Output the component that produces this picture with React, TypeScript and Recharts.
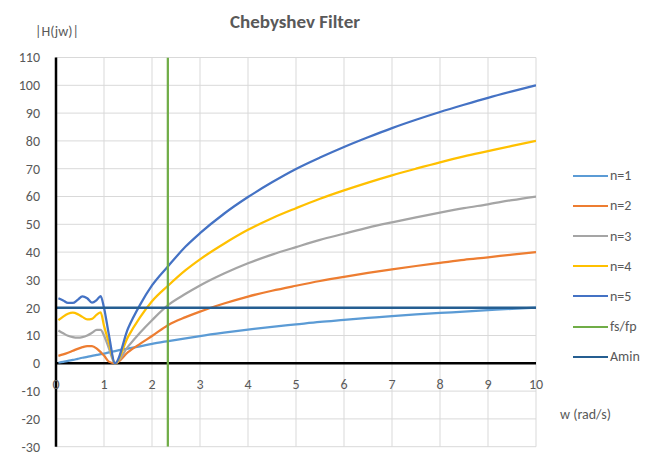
import React from 'react';
import { LineChart, Line, XAxis, YAxis, CartesianGrid, ReferenceLine, Legend } from 'recharts';

// angular frequency samples (rad/s)
const W = [0.05, 0.15, 0.25, 0.35, 0.45, 0.55, 0.65, 0.75, 0.85, 0.93, 1.0, 1.1, 1.23,
  1.5, 1.75, 2, 2.34, 2.7, 3, 3.5, 4, 4.5, 5, 5.5, 6, 6.5, 7, 7.5, 8, 8.5, 9, 9.5, 10];

// |H(jw)| values
const N1 = [0.2, 0.5, 0.9, 1.2, 1.6, 2.0, 2.3, 2.7, 3.0, 3.3, 3.5, 3.9, 4.4,
  5.3, 6.1, 7.0, 8.0, 9.0, 9.8, 11.0, 12.1, 13.1, 14.0, 14.9, 15.6, 16.3, 17.0, 17.6, 18.1, 18.6, 19.1, 19.6, 20.0];
const N2 = [2.7, 3.2, 3.8, 4.5, 5.2, 5.8, 6.2, 6.2, 5.3, 4.0, 2.8, 0.6, 0,
  4.0, 7.0, 9.8, 13.8, 16.6, 18.6, 21.5, 24.0, 26.1, 27.9, 29.6, 31.1, 32.5, 33.8, 35.0, 36.1, 37.2, 38.1, 39.1, 40.0];
const N3 = [11.8, 10.8, 9.9, 9.4, 9.2, 9.4, 10.0, 11.0, 12.0, 12.0, 10.0, 5.5, 0,
  6.0, 11.0, 15.5, 21.0, 25.0, 28.0, 32.3, 36.0, 39.1, 41.8, 44.4, 46.6, 48.8, 50.7, 52.5, 54.2, 55.8, 57.2, 58.7, 60.0];
const N4 = [15.5, 16.8, 17.8, 18.2, 17.7, 16.7, 15.8, 16.0, 17.5, 18.3, 13.5, 7.5, 0,
  9.5, 16.5, 22.3, 28.0, 33.5, 37.4, 43.0, 48.0, 52.2, 55.8, 59.2, 62.2, 65.0, 67.6, 70.0, 72.3, 74.4, 76.3, 78.2, 80.0];
const N5 = [23.4, 22.6, 21.7, 21.7, 22.8, 24.1, 23.4, 21.8, 22.8, 24.2, 20.0, 10.5, 0,
  12.5, 21.0, 28.0, 35.0, 42.0, 46.8, 53.8, 59.8, 65.1, 69.9, 74.0, 77.8, 81.3, 84.6, 87.6, 90.4, 93.0, 95.5, 97.8, 100.0];

const FS_W = [2.33, 2.33];
const FS_V = [-30, 110];
const AMIN_W = [0, 10];
const AMIN_V = [20, 20];

const X_TICKS = [0, 1, 2, 3, 4, 5, 6, 7, 8, 9, 10];
const Y_TICKS = [-30, -20, -10, 0, 10, 20, 30, 40, 50, 60, 70, 80, 90, 100, 110];

const toPoints = (ws: number[], vs: number[]) => ws.map((w, i) => ({ w, v: vs[i] }));

const SERIES = [
  { name: 'n=1', data: toPoints(W, N1), color: '#5B9BD5', width: 2.25 },
  { name: 'n=2', data: toPoints(W, N2), color: '#ED7D31', width: 2.25 },
  { name: 'n=3', data: toPoints(W, N3), color: '#A5A5A5', width: 2.25 },
  { name: 'n=4', data: toPoints(W, N4), color: '#FFC000', width: 2.25 },
  { name: 'n=5', data: toPoints(W, N5), color: '#4472C4', width: 2.25 },
  { name: 'fs/fp', data: toPoints(FS_W, FS_V), color: '#70AD47', width: 2.25 },
  { name: 'Amin', data: toPoints(AMIN_W, AMIN_V), color: '#255E91', width: 2.5 },
];
const ORDER = SERIES.map((s) => s.name);

const FONT = 'Carlito, Lato, "Open Sans", sans-serif';
const TEXT = '#595959';
const CHART_W = 649;
const CHART_H = 444;
const MARGIN = { top: 49.5, right: 121, bottom: 4.3, left: 8 };
const Y_MIN = -30;
const Y_MAX = 110;
const PLOT_H = CHART_H - MARGIN.top - MARGIN.bottom;
const ZERO_FROM_BOTTOM = (PLOT_H * (0 - Y_MIN)) / (Y_MAX - Y_MIN);

const XTick = (props: any) => {
  const { x, y, payload } = props;
  return (
    <text x={x} y={y - ZERO_FROM_BOTTOM + 26} textAnchor="middle" fill={TEXT} fontSize={14} fontFamily={FONT}>
      {payload.value}
    </text>
  );
};

const renderLegend = (props: any) => {
  const payload = [...(props.payload || [])].sort(
    (a: any, b: any) => ORDER.indexOf(a.value) - ORDER.indexOf(b.value)
  );
  return (
    <div style={{ fontFamily: FONT, fontSize: 14, color: TEXT }}>
      {payload.map((p: any) => (
        <div key={p.value} style={{ height: 30.2, display: 'flex', alignItems: 'center' }}>
          <span style={{ display: 'inline-block', width: 35, height: 0, borderTop: `2.5px solid ${p.color}`, marginRight: 2 }} />
          <span>{p.value}</span>
        </div>
      ))}
    </div>
  );
};

export default function App() {
  return (
    <div style={{ position: 'relative', width: CHART_W, height: CHART_H, background: '#fff' }}>
      <LineChart width={CHART_W} height={CHART_H} margin={MARGIN}>
        <CartesianGrid stroke="#D9D9D9" strokeWidth={1} />
        <XAxis
          type="number"
          dataKey="w"
          domain={[0, 10]}
          ticks={X_TICKS}
          interval={0}
          height={1}
          axisLine={false}
          tickLine={false}
          tickSize={0}
          tickMargin={0}
          tick={(p: any) => <XTick {...p} />}
          allowDataOverflow
        />
        <YAxis
          type="number"
          dataKey="v"
          domain={[Y_MIN, Y_MAX]}
          ticks={Y_TICKS}
          interval={0}
          width={40}
          axisLine={{ stroke: '#000', strokeWidth: 2.5 }}
          tickLine={false}
          tickMargin={10}
          tick={{ fill: TEXT, fontSize: 14, fontFamily: FONT }}
          allowDataOverflow
        />
        <ReferenceLine y={0} stroke="#000" strokeWidth={2.5} />
        {SERIES.map((s) => (
          <Line
            key={s.name}
            name={s.name}
            data={s.data}
            dataKey="v"
            type="monotone"
            stroke={s.color}
            strokeWidth={s.width}
            dot={false}
            activeDot={false}
            isAnimationActive={false}
          />
        ))}
        <Legend
          layout="vertical"
          align="center"
          verticalAlign="middle"
          content={renderLegend}
          wrapperStyle={{ left: 565, top: 152.6, width: 90 }}
        />
      </LineChart>
      <div style={{ position: 'absolute', left: 187, top: 3, width: 200, textAlign: 'center', fontFamily: FONT, fontWeight: 700, fontSize: 19, lineHeight: '22px', color: TEXT }}>
        Chebyshev Filter
      </div>
      <div style={{ position: 'absolute', left: 27, top: 15, fontFamily: FONT, fontSize: 14, lineHeight: '18px', color: TEXT }}>
        |H(jw)|
      </div>
      <div style={{ position: 'absolute', left: 552, top: 398, fontFamily: FONT, fontSize: 14, lineHeight: '18px', color: TEXT }}>
        w (rad/s)
      </div>
    </div>
  );
}
